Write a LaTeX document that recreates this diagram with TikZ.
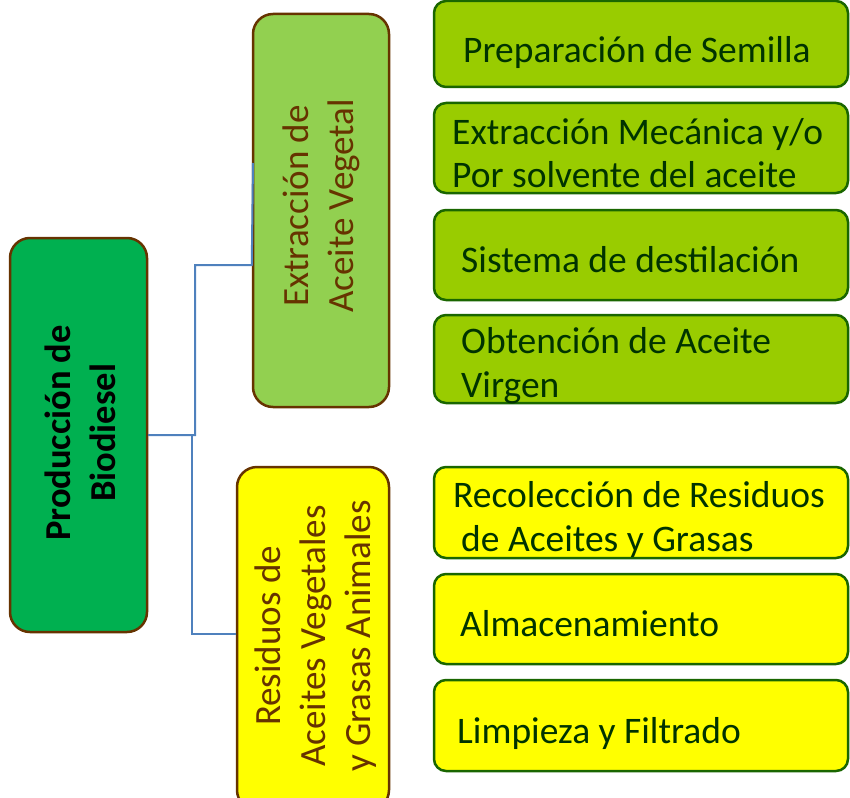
\documentclass[tikz,border=0pt]{standalone}
\usepackage{fontspec}
\setmainfont{Carlito}
\definecolor{mainfill}{HTML}{00B050}
\definecolor{brownline}{HTML}{663300}
\definecolor{lightgreen}{HTML}{92D050}
\definecolor{olivefill}{HTML}{99CC00}
\definecolor{darkborder}{HTML}{1A6600}
\definecolor{darktext}{HTML}{003300}
\definecolor{yellowfill}{HTML}{FFFF00}
\definecolor{connblue}{HTML}{4F81BD}
\tikzset{
  bigbox/.style={rectangle, rounded corners=20pt, draw=brownline, line width=2.5pt, inner sep=0pt},
  stepbox/.style={rectangle, rounded corners=12pt, draw=darkborder, line width=2.5pt, inner sep=0pt,
    minimum width=414pt, fill=olivefill},
  ybox/.style={stepbox, fill=yellowfill},
  steptext/.style={anchor=base west, inner sep=0pt, text=darktext, font=\fontsize{37.5}{44}\selectfont},
  vtext/.style={rotate=90, align=center, inner sep=0pt, font=\fontsize{37}{45}\selectfont},
  conn/.style={draw=connblue, line width=2pt}
}
\begin{document}
\begin{tikzpicture}[x=1pt,y=-1pt]
\useasboundingbox (0,0) rectangle (850,797);
\clip (0,0) rectangle (850,797);

% main boxes
\node[bigbox, fill=mainfill, minimum width=137pt, minimum height=394pt] (L) at (78.5,435) {};
\node[vtext, font=\bfseries\fontsize{36.5}{45}\selectfont, text=black] (Lt) at (80,433) {Producción de\\Biodiesel};

\node[bigbox, fill=lightgreen, minimum width=136pt, minimum height=393pt] (M1) at (321,210.5) {};
\node[vtext, text=brownline] (M1t) at (321,206) {Extracción de\\Aceite Vegetal};

\node[bigbox, fill=yellowfill, minimum width=152pt, minimum height=343pt] (M2) at (313,638.5) {};
\node[vtext, text=brownline] (M2t) at (316,636) {Residuos de\\Aceites Vegetales\\y Grasas Animales};

% step boxes
\node[stepbox, minimum height=86pt] (b1) at (641,44) {};
\node[stepbox, minimum height=90pt] (b2) at (641,148) {};
\node[stepbox, minimum height=90pt] (b3) at (641,255) {};
\node[stepbox, minimum height=88pt] (b4) at (641,359) {};
\node[ybox, minimum height=91pt] (b5) at (641,512.5) {};
\node[ybox, minimum height=90pt] (b6) at (641,619) {};
\node[ybox, minimum height=91pt] (b7) at (641,725.5) {};

\node[steptext] (t1) at (463,63) {Preparación de Semilla};
\node[steptext] (t2a) at (452,144) {Extracción Mecánica y/o};
\node[steptext] (t2b) at (452,187) {Por solvente del aceite};
\node[steptext] (t3) at (461,272) {Sistema de destilación};
\node[steptext] (t4a) at (461,353) {Obtención de Aceite};
\node[steptext] (t4b) at (461,397) {Virgen};
\node[steptext] (t5a) at (453,507) {Recolección de Residuos};
\node[steptext] (t5b) at (461,551) {de Aceites y Grasas};
\node[steptext] (t6) at (460,636) {Almacenamiento};
\node[steptext] (t7) at (457,743) {Limpieza y Filtrado};

% connectors
\coordinate (j1) at (195,435);
\coordinate (j2) at (195,265);
\coordinate (e1) at (M1.west |- j2);
\coordinate (e1t) at (253,163);
\draw[conn] (L.east) -- (j1) -- (j2) -- (e1) -- (e1t);
\coordinate (k1) at (192,435);
\coordinate (k2) at (192,634);
\coordinate (e2) at (M2.west |- k2);
\draw[conn] (L.east) -- (k1) -- (k2) -- (e2);
\end{tikzpicture}
\end{document}
